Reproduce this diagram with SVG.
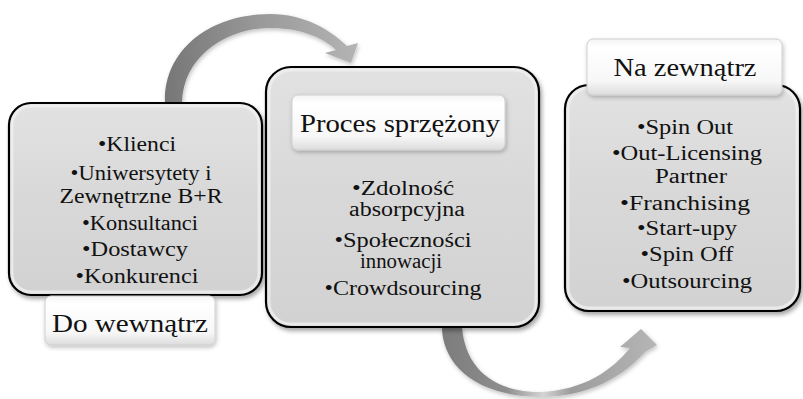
<svg xmlns="http://www.w3.org/2000/svg" width="803" height="399" viewBox="0 0 803 399">
<defs>
<style>
.box{stroke:#000;stroke-width:2.2;fill:url(#boxFill);filter:url(#shadow)}
.bevel{fill:none;stroke:#f2f2f2;stroke-opacity:.7;stroke-width:3}
.lab{fill:url(#labFill);stroke:#cfcfcf;stroke-width:1;filter:url(#softShadow)}
.body{font-size:20px}
.ltext{font-size:26px}
</style>
<linearGradient id="boxFill" x1="0" y1="0" x2="0" y2="1">
<stop offset="0" stop-color="#e2e2e2"/>
<stop offset="0.5" stop-color="#d8d8d8"/>
<stop offset="1" stop-color="#d2d2d2"/>
</linearGradient>
<linearGradient id="labFill" x1="0" y1="0" x2="0" y2="1">
<stop offset="0" stop-color="#f4f4f4"/>
<stop offset="0.15" stop-color="#ffffff"/>
<stop offset="0.75" stop-color="#f7f7f7"/>
<stop offset="1" stop-color="#dcdcdc"/>
</linearGradient>
<linearGradient id="arrTop" gradientUnits="userSpaceOnUse" x1="165" y1="0" x2="358" y2="0">
<stop offset="0" stop-color="#767676"/>
<stop offset="0.5" stop-color="#9a9a9a"/>
<stop offset="1" stop-color="#b4b4b4"/>
</linearGradient>
<linearGradient id="arrBot" gradientUnits="userSpaceOnUse" x1="442" y1="0" x2="657" y2="0">
<stop offset="0" stop-color="#7c7c7c"/>
<stop offset="0.3" stop-color="#8e8e8e"/>
<stop offset="0.47" stop-color="#d4d4d4"/>
<stop offset="0.6" stop-color="#9c9c9c"/>
<stop offset="1" stop-color="#b6b6b6"/>
</linearGradient>
<filter id="shadow" x="-10%" y="-10%" width="125%" height="125%">
<feDropShadow dx="2" dy="3" stdDeviation="2" flood-color="#000" flood-opacity="0.35"/>
</filter>
<filter id="softShadow" x="-10%" y="-20%" width="125%" height="150%">
<feDropShadow dx="1" dy="2" stdDeviation="2" flood-color="#000" flood-opacity="0.25"/>
</filter>
</defs>
<rect width="803" height="399" fill="#fff"/>

<g id="connectors">
<path id="arrow-top" filter="url(#softShadow)" fill="url(#arrTop)" d="M165,103 C163,50 210,14 270,14 C305,14 330,30 347,46 L358,43 L351,63 L325,53 L336,50 C322,37 300,28 270,28 C228,28 183,55 182,103 Z"/>
<path id="arrow-bottom" filter="url(#softShadow)" fill="url(#arrBot)" d="M442,327 C442,360 470,396 540,397 C590,397 625,375 645,352 L657,345 L641,329 L620,347 L630,348 C612,370 585,390 540,392 C490,392 465,365 462,327 Z"/>
</g>

<g font-family="Liberation Serif, DejaVu Serif, serif" fill="#111" text-anchor="middle">
<g id="node-left">
<rect class="box" x="9" y="103" width="253" height="192" rx="22"/>
<rect class="bevel" x="12" y="106" width="247" height="186" rx="19"/>
<g class="body">
<text x="137" y="151" textLength="78" lengthAdjust="spacingAndGlyphs">•Klienci</text>
<text x="141" y="180" textLength="141" lengthAdjust="spacingAndGlyphs">•Uniwersytety i</text>
<text x="141" y="203" textLength="163" lengthAdjust="spacingAndGlyphs">Zewnętrzne B+R</text>
<text x="140" y="230" textLength="116" lengthAdjust="spacingAndGlyphs">•Konsultanci</text>
<text x="135" y="256" textLength="106" lengthAdjust="spacingAndGlyphs">•Dostawcy</text>
<text x="137" y="283" textLength="123" lengthAdjust="spacingAndGlyphs">•Konkurenci</text>
</g>
<g id="label-left">
<rect class="lab" x="45" y="296" width="170" height="49" rx="6"/>
<text class="ltext" x="130" y="332" textLength="156" lengthAdjust="spacingAndGlyphs">Do wewnątrz</text>
</g>
</g>

<g id="node-middle">
<rect class="box" x="266" y="67" width="273" height="260" rx="25"/>
<rect class="bevel" x="269" y="70" width="267" height="254" rx="22"/>
<g id="label-middle">
<rect class="lab" x="292" y="95" width="213" height="55" rx="6"/>
<text class="ltext" x="400" y="132" textLength="200" lengthAdjust="spacingAndGlyphs">Proces sprzężony</text>
</g>
<g class="body">
<text x="403" y="195" textLength="102" lengthAdjust="spacingAndGlyphs">•Zdolność</text>
<text x="407" y="216" textLength="116" lengthAdjust="spacingAndGlyphs">absorpcyjna</text>
<text x="403" y="247" textLength="137" lengthAdjust="spacingAndGlyphs">•Społeczności</text>
<text x="401" y="268" textLength="82" lengthAdjust="spacingAndGlyphs">innowacji</text>
<text x="403" y="295" textLength="157" lengthAdjust="spacingAndGlyphs">•Crowdsourcing</text>
</g>
</g>

<g id="node-right">
<rect class="box" x="565" y="85" width="235" height="226" rx="24"/>
<rect class="bevel" x="568" y="88" width="229" height="220" rx="21"/>
<g class="body">
<text x="685" y="134" textLength="96" lengthAdjust="spacingAndGlyphs">•Spin Out</text>
<text x="687" y="160" textLength="150" lengthAdjust="spacingAndGlyphs">•Out-Licensing</text>
<text x="691" y="183" textLength="72" lengthAdjust="spacingAndGlyphs">Partner</text>
<text x="685" y="210" textLength="130" lengthAdjust="spacingAndGlyphs">•Franchising</text>
<text x="687" y="235" textLength="100" lengthAdjust="spacingAndGlyphs">•Start-upy</text>
<text x="687" y="261" textLength="93" lengthAdjust="spacingAndGlyphs">•Spin Off</text>
<text x="687" y="288" textLength="130" lengthAdjust="spacingAndGlyphs">•Outsourcing</text>
</g>
<g id="label-right">
<rect class="lab" x="587" y="39" width="195" height="56" rx="6"/>
<text class="ltext" x="685" y="76" textLength="143" lengthAdjust="spacingAndGlyphs">Na zewnątrz</text>
</g>
</g>
</g>
</svg>
